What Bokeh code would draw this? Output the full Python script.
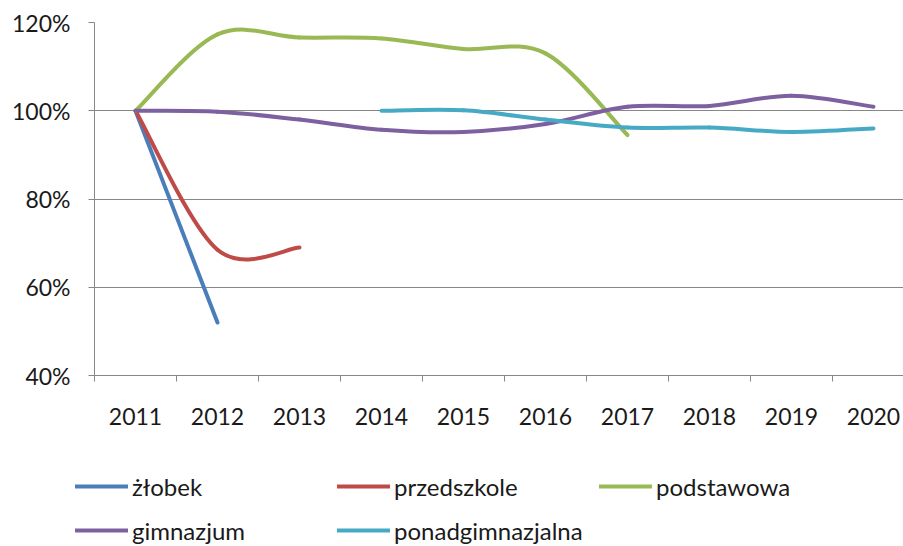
from bokeh.plotting import figure
from bokeh.layouts import column
from bokeh.models import (ColumnDataSource, Range1d, FixedTicker, NumeralTickFormatter,
                          Legend, LegendItem)
from bokeh.embed import file_html
from bokeh.resources import INLINE

# ---- data (index relative to 2011 = 100%) ----
years_zlobek = [2011, 2012]
zlobek = [1.00, 0.52]

years_przedszkole = [2011, 2012, 2013]
przedszkole = [1.00, 0.685, 0.69]

years_podstawowa = [2011, 2012, 2013, 2014, 2015, 2016, 2017]
podstawowa = [1.00, 1.173, 1.166, 1.164, 1.140, 1.130, 0.945]

years_gimnazjum = [2011, 2012, 2013, 2014, 2015, 2016, 2017, 2018, 2019, 2020]
gimnazjum = [1.00, 0.998, 0.980, 0.957, 0.952, 0.970, 1.009, 1.011, 1.034, 1.009]

years_ponad = [2014, 2015, 2016, 2017, 2018, 2019, 2020]
ponadgimnazjalna = [1.00, 1.001, 0.980, 0.962, 0.962, 0.952, 0.960]

labels = ["żłobek", "przedszkole", "podstawowa", "gimnazjum", "ponadgimnazjalna"]
colors = ["#4A7EBB", "#BE4B48", "#98B954", "#7D60A0", "#46AAC5"]

y_ticks = [0.4, 0.6, 0.8, 1.0, 1.2]
year_ticks = list(range(2011, 2021))

FONT = "Lato"
GRID = "#878787"


def smooth_source(xs, ys):
    """Bezier segments (Excel-like smoothed line) through the data points."""
    n = len(xs)
    d = dict(x0=[], y0=[], x1=[], y1=[], cx0=[], cy0=[], cx1=[], cy1=[])
    for i in range(n - 1):
        a = i - 1 if i > 0 else i
        b = i + 2 if i + 2 < n else i + 1
        d["x0"].append(xs[i]); d["y0"].append(ys[i])
        d["x1"].append(xs[i + 1]); d["y1"].append(ys[i + 1])
        d["cx0"].append(xs[i] + (xs[i + 1] - xs[a]) / 6.0)
        d["cy0"].append(ys[i] + (ys[i + 1] - ys[a]) / 6.0)
        d["cx1"].append(xs[i + 1] - (xs[b] - xs[i]) / 6.0)
        d["cy1"].append(ys[i + 1] - (ys[b] - ys[i]) / 6.0)
    return ColumnDataSource(d)


W = 903
H_MAIN, H_LEG = 440, 106
frame_left = 94
frame_top = 22
frame_h = 353
frame_w = W - frame_left
cat_px = 82.0

p = figure(width=W, height=H_MAIN, output_backend="svg", toolbar_location=None,
           x_range=Range1d(2010.5, 2010.5 + frame_w / cat_px),
           y_range=Range1d(0.4, 1.2),
           min_border_left=frame_left, min_border_right=0,
           min_border_top=frame_top, min_border_bottom=H_MAIN - frame_top - frame_h)
p.frame_align = False
p.outline_line_color = None
p.background_fill_color = "white"
p.border_fill_color = "white"

# grid
p.xgrid.grid_line_color = None
p.ygrid.grid_line_color = GRID
p.ygrid.grid_line_width = 1
p.ygrid.ticker = FixedTicker(ticks=y_ticks)

# y axis
p.yaxis.ticker = FixedTicker(ticks=y_ticks)
p.yaxis.formatter = NumeralTickFormatter(format="0%")
p.yaxis.axis_line_color = GRID
p.yaxis.major_tick_line_color = GRID
p.yaxis.major_tick_out = 6
p.yaxis.major_tick_in = 0
p.yaxis.minor_tick_line_color = None
p.yaxis.major_label_standoff = 18
p.yaxis.major_label_text_font = FONT
p.yaxis.major_label_text_font_size = "23px"
p.yaxis.major_label_text_color = "#1a1a1a"

# x axis: labels at year centres, tick marks between categories
p.xaxis.ticker = FixedTicker(ticks=year_ticks, minor_ticks=[y - 0.5 for y in year_ticks])
p.xaxis.axis_line_color = GRID
p.xaxis.major_tick_line_color = None
p.xaxis.major_tick_out = 0
p.xaxis.major_tick_in = 0
p.xaxis.minor_tick_line_color = GRID
p.xaxis.minor_tick_out = 6
p.xaxis.minor_tick_in = 0
p.xaxis.major_label_standoff = 26
p.xaxis.major_label_text_font = FONT
p.xaxis.major_label_text_font_size = "23px"
p.xaxis.major_label_text_color = "#1a1a1a"

series = [
    (years_zlobek, zlobek),
    (years_przedszkole, przedszkole),
    (years_podstawowa, podstawowa),
    (years_gimnazjum, gimnazjum),
    (years_ponad, ponadgimnazjalna),
]

# legend strip below the chart
q = figure(width=W, height=H_LEG, output_backend="svg", toolbar_location=None,
           x_range=Range1d(0, 1), y_range=Range1d(0, 1),
           min_border_left=0, min_border_right=0, min_border_top=0, min_border_bottom=0)
q.frame_align = False
q.axis.visible = False
q.grid.grid_line_color = None
q.outline_line_color = None
q.background_fill_color = "white"
q.border_fill_color = "white"

items = []
for (xs, ys), lab, col in zip(series, labels, colors):
    src = smooth_source(xs, ys)
    kw = dict(x0="x0", y0="y0", x1="x1", y1="y1", cx0="cx0", cy0="cy0",
              cx1="cx1", cy1="cy1", source=src, line_color=col, line_width=4,
              line_cap="round", line_join="round")
    p.bezier(**kw)
    r = q.bezier(visible=False, **kw)
    items.append(LegendItem(label=lab, renderers=[r]))

legend = Legend(items=items, location=(75, 1), orientation="horizontal", ncols=3,
                glyph_width=53, glyph_height=30, label_height=30, label_width=191,
                label_standoff=4, spacing=14, padding=0, margin=0,
                border_line_color=None, background_fill_alpha=0,
                inactive_fill_alpha=0,
                label_text_font=FONT, label_text_font_size="24px",
                label_text_color="#1a1a1a")
q.add_layout(legend, "center")

layout = column(p, q, spacing=0)
open("out.html", "w").write(file_html(layout, INLINE))
